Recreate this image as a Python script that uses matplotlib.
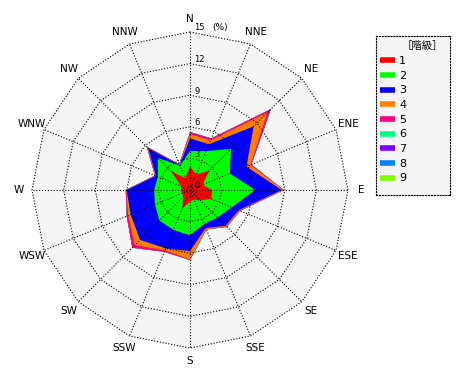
import numpy as np
import matplotlib
matplotlib.use("Agg")
import matplotlib.pyplot as plt
from matplotlib.lines import Line2D

# 風向（北から時計回り）
directions = ["N", "NNE", "NE", "ENE", "E", "ESE", "SE", "SSE",
              "S", "SSW", "SW", "WSW", "W", "WNW", "NW", "NNW"]

# 階級ごとの出現率 (%)
class1 = [2.2, 1.6, 2.6, 1.3, 2.1, 2.2, 1.4, 1.0, 1.1, 1.9, 0.9, 0.8, 0.8, 0.9, 2.6, 1.2]
class2 = [1.5, 2.4, 2.9, 2.8, 4.1, 2.1, 2.3, 2.5, 3.2, 2.2, 3.2, 2.8, 2.6, 2.4, 1.7, 1.3]
class3 = [1.2, 0.7, 3.05, 1.7, 2.5, 0.7, 1.1, 0.4, 1.5, 1.9, 2.6, 2.5, 2.6, 0.2, 1.3, 0.05]
class4 = [0.4, 0.4, 1.85, 0.4, 0.15, 0.1, 0.1, 0.1, 0.8, 0.2, 0.7, 0.25, 0.05, 0.05, 0.1, 0.05]
class5 = [0.2, 0.2, 0.45, 0.1, 0.05, 0.05, 0.05, 0.05, 0.05, 0.15, 0.35, 0.15, 0.05, 0.05, 0.1, 0.05]
class6 = [0, 0, 0, 0, 0, 0, 0, 0, 0, 0, 0, 0, 0, 0, 0, 0]
class7 = [0, 0, 0, 0, 0, 0, 0, 0, 0, 0, 0, 0, 0, 0, 0, 0]
class8 = [0, 0, 0, 0, 0, 0, 0, 0, 0, 0, 0, 0, 0, 0, 0, 0]
class9 = [0, 0, 0, 0, 0, 0, 0, 0, 0, 0, 0, 0, 0, 0, 0, 0]

class_labels = ["1", "2", "3", "4", "5", "6", "7", "8", "9"]
class_colors = ["#ff0000", "#00ff00", "#0000ff", "#ff8000", "#ff0080",
                "#00ff80", "#8000ff", "#0080ff", "#80ff00"]

rings = [0, 3, 6, 9, 12, 15]

cjk = ["Noto Sans CJK JP", "DejaVu Sans"]

fig = plt.figure(figsize=(4.7, 3.8), dpi=100)
ax = fig.add_axes([32 / 470, 32 / 380, 316 / 470, 316 / 380], projection="polar")
ax.set_theta_zero_location("N")
ax.set_theta_direction(-1)
ax.set_ylim(0, 15)
ax.axis("off")

theta = np.deg2rad(np.arange(len(directions)) * 22.5)
theta_c = np.append(theta, theta[0])

# 背景（外周の多角形）
ax.fill(theta_c, np.full(len(theta_c), rings[-1]), color="#f5f5f5", zorder=0, clip_on=False)

# 積み上げ（外側から描く）
classes = np.array([class1, class2, class3, class4, class5, class6, class7, class8, class9])
cum = np.cumsum(classes, axis=0)
for i in range(len(classes) - 1, -1, -1):
    r = np.append(cum[i], cum[i][0])
    ax.fill(theta_c, r, color=class_colors[i], lw=0, zorder=1 + (9 - i) * 0.1)

# グリッド（点線の多角形と放射線）
dots = (0, (1, 1.6))
for rr in rings[1:]:
    ax.plot(theta_c, np.full(len(theta_c), rr), color="black", lw=0.8,
            linestyle=dots, zorder=5, clip_on=False)
for t in theta:
    ax.plot([t, t], [0, rings[-1]], color="black", lw=0.8, linestyle=dots,
            zorder=5, clip_on=False)

# 方位ラベル
for t, d in zip(theta, directions):
    ax.text(t, 16.25, d, ha="center", va="center", fontsize=7.5, clip_on=False)

# 目盛りラベル
for rr in rings:
    ax.annotate(str(rr), xy=(0, rr), xytext=(3, 3), textcoords="offset points",
                ha="left", va="center", fontsize=6, zorder=6)
ax.annotate("(%)", xy=(0, rings[-1]), xytext=(16, 3), textcoords="offset points",
            ha="left", va="center", fontsize=6.5, zorder=6)

# 凡例
ax_leg = fig.add_axes([376 / 470, 1 - 195 / 380, 74 / 470, 159 / 380])
ax_leg.set_facecolor("#f5f5f5")
ax_leg.set_xticks([])
ax_leg.set_yticks([])
for s in ax_leg.spines.values():
    s.set_linestyle((0, (1, 1.6)))
    s.set_linewidth(0.8)
handles = [Line2D([], [], color=c, lw=4, solid_capstyle="butt") for c in class_colors]
leg = ax_leg.legend(handles, class_labels, loc="upper left", bbox_to_anchor=(0.02, 0.98),
                    frameon=False, title="［階級］", fontsize=8,
                    title_fontproperties={"family": cjk, "size": 7.5},
                    handlelength=1.4, handletextpad=0.35, labelspacing=0.42,
                    borderaxespad=0.0, borderpad=0.2)
leg._legend_box.align = "left"
leg.get_title().set_position((22, 0))

fig.savefig("out.png", dpi=100)
